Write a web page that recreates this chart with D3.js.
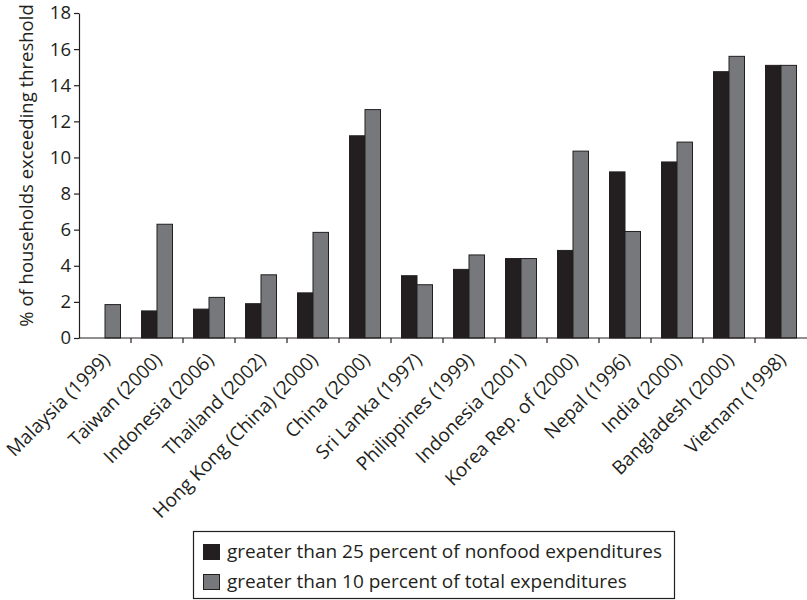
<!DOCTYPE html>
<html>
<head>
<meta charset="utf-8">
<script src="https://cdn.jsdelivr.net/npm/d3@7"></script>
<style>
  html, body { margin: 0; padding: 0; background: #fff; }
  svg { display: block; }
  text { font-family: "Open Sans", sans-serif; fill: #231f20; }
</style>
</head>
<body>
<svg id="chart" width="807" height="600"></svg>
<script>
// Countries (survey year) along the horizontal axis
const categories = [
  "Malaysia (1999)", "Taiwan (2000)", "Indonesia (2006)", "Thailand (2002)",
  "Hong Kong (China) (2000)", "China (2000)", "Sri Lanka (1997)", "Philippines (1999)",
  "Indonesia (2001)", "Korea Rep. of (2000)", "Nepal (1996)", "India (2000)",
  "Bangladesh (2000)", "Vietnam (1998)"
];
// Share of households whose health spending exceeds each threshold (%)
const nonfood25 = [0, 1.5, 1.6, 1.9, 2.5, 11.2, 3.45, 3.8, 4.4, 4.85, 9.2, 9.75, 14.75, 15.1];
const total10   = [1.85, 6.3, 2.25, 3.5, 5.85, 12.65, 2.95, 4.6, 4.4, 10.35, 5.9, 10.85, 15.6, 15.1];
const seriesNames = [
  "greater than 25 percent of nonfood expenditures",
  "greater than 10 percent of total expenditures"
];
const seriesColors = ["#231f20", "#77787b"];
const yTicks = [0, 2, 4, 6, 8, 10, 12, 14, 16, 18];

const svg = d3.select("#chart");
const plotLeft = 79, plotRight = 807, plotTop = 13, plotBottom = 338;

const x0 = d3.scaleBand().domain(categories).range([plotLeft, plotRight]).padding(0);
const x1 = d3.scaleBand().domain([0, 1]).range([10.5, 41.5]).padding(0);
const y = d3.scaleLinear().domain([0, 18]).range([plotBottom, plotTop]);

const rows = categories.map((c, i) => ({ c, v: [nonfood25[i], total10[i]] }));

// bars
const groups = svg.append("g").selectAll("g").data(rows).join("g")
  .attr("transform", d => `translate(${x0(d.c)},0)`);
groups.selectAll("rect")
  .data(d => d.v.map((v, s) => ({ v, s })).filter(e => e.v > 0))
  .join("rect")
  .attr("x", e => x1(e.s))
  .attr("width", x1.bandwidth())
  .attr("y", e => y(e.v))
  .attr("height", e => y(0) - y(e.v))
  .attr("fill", e => seriesColors[e.s])
  .attr("stroke", "#231f20")
  .attr("stroke-width", 1);

// y axis
const yAxis = svg.append("g")
  .attr("transform", `translate(${plotLeft},0)`)
  .call(d3.axisLeft(y).tickValues(yTicks).tickSize(5).tickSizeOuter(0).tickPadding(3));
yAxis.select(".domain").attr("stroke", "#231f20").attr("stroke-width", 1.2);
yAxis.selectAll(".tick line").attr("stroke", "#231f20").attr("stroke-width", 1.2);
yAxis.selectAll(".tick text").attr("font-size", 18.5).attr("fill", "#231f20")
  .style("font-family", "'Open Sans', sans-serif");

// x axis: ticks on band boundaries
const xAxisG = svg.append("g");
xAxisG.append("line")
  .attr("x1", plotLeft).attr("x2", plotRight).attr("y1", plotBottom).attr("y2", plotBottom)
  .attr("stroke", "#231f20").attr("stroke-width", 1.2);
xAxisG.selectAll("line.tk").data(categories.slice(1)).join("line")
  .attr("class", "tk")
  .attr("x1", d => x0(d)).attr("x2", d => x0(d))
  .attr("y1", plotBottom).attr("y2", plotBottom + 5)
  .attr("stroke", "#231f20").attr("stroke-width", 1.2);
xAxisG.selectAll("text").data(categories).join("text")
  .attr("transform", d => `translate(${x0(d) + x0.bandwidth() / 2 + 6},${plotBottom + 23}) rotate(-45)`)
  .attr("text-anchor", "end")
  .attr("font-size", 19)
  .text(d => d);

// y axis title
svg.append("text")
  .attr("transform", `translate(33,${(plotTop + plotBottom) / 2 - 10}) rotate(-90)`)
  .attr("text-anchor", "middle")
  .attr("font-size", 18.5)
  .text("% of households exceeding threshold");

// legend
const lg = svg.append("g");
lg.append("rect")
  .attr("x", 193.5).attr("y", 531.5).attr("width", 481).attr("height", 67)
  .attr("fill", "none").attr("stroke", "#231f20").attr("stroke-width", 1.2);
const items = lg.selectAll("g.item").data(seriesNames).join("g")
  .attr("class", "item")
  .attr("transform", (d, i) => `translate(203,${544 + i * 30})`);
items.append("rect")
  .attr("x", 0.5).attr("y", 0.5)
  .attr("width", 16).attr("height", 15)
  .attr("fill", (d, i) => seriesColors[i])
  .attr("stroke", "#231f20").attr("stroke-width", 1);
items.append("text")
  .attr("x", 24).attr("y", 14)
  .attr("font-size", 19)
  .text(d => d);
</script>
</body>
</html>
